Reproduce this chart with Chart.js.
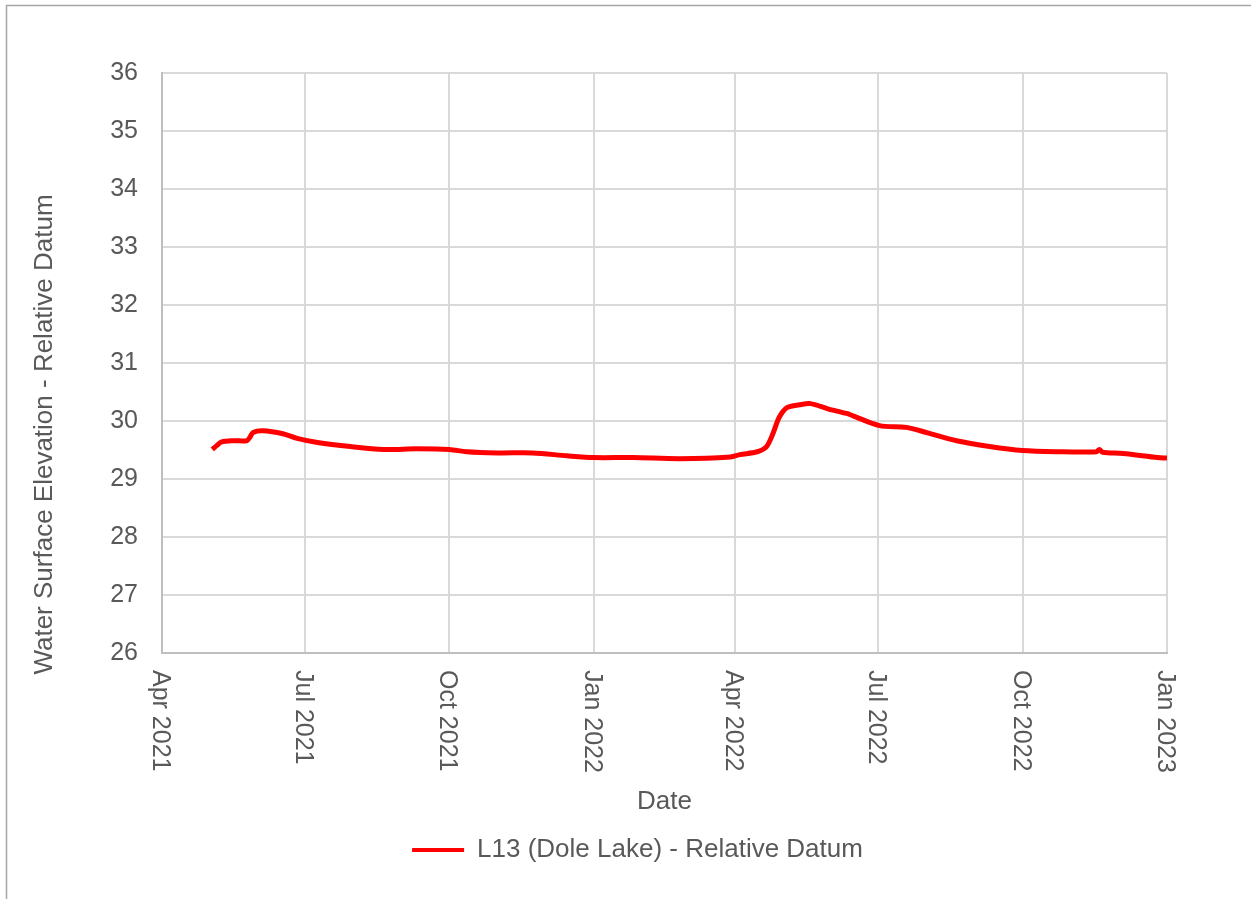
<!DOCTYPE html>
<html>
<head>
<meta charset="utf-8">
<script src="https://cdn.jsdelivr.net/npm/chart.js@4.4.1/dist/chart.umd.min.js"></script>
<style>
  html, body { margin: 0; padding: 0; background: #fff; }
  #wrap { width: 1251px; height: 899px; position: relative; }
</style>
</head>
<body>
<div id="wrap"><canvas id="myChart" width="1251" height="899"></canvas></div>
<script>
// L13 (Dole Lake) water level
var dates = ['2021-05-03', '2021-05-06', '2021-05-09', '2021-05-16', '2021-05-25', '2021-05-27',
             '2021-05-29', '2021-06-04', '2021-06-17', '2021-06-26', '2021-07-09', '2021-07-30',
             '2021-08-20', '2021-09-10', '2021-10-01', '2021-10-12', '2021-11-01', '2021-11-23',
             '2021-12-15', '2022-01-01', '2022-01-26', '2022-02-25', '2022-03-29', '2022-04-04',
             '2022-04-15', '2022-04-21', '2022-04-25', '2022-04-29', '2022-05-04', '2022-05-12',
             '2022-05-19', '2022-05-30', '2022-06-11', '2022-06-15', '2022-07-02', '2022-07-19',
             '2022-08-01', '2022-08-20', '2022-09-10', '2022-10-01', '2022-10-23', '2022-11-17',
             '2022-11-19', '2022-11-21', '2022-12-04', '2022-12-26', '2023-01-01'];
var levels = [29.51, 29.58, 29.64, 29.66, 29.66, 29.72,
              29.80, 29.83, 29.78, 29.70, 29.63, 29.56,
              29.51, 29.52, 29.51, 29.47, 29.45, 29.45,
              29.40, 29.37, 29.37, 29.35, 29.38, 29.42,
              29.47, 29.56, 29.78, 30.06, 30.23, 30.28,
              30.30, 30.21, 30.13, 30.09, 29.92, 29.89,
              29.80, 29.66, 29.56, 29.49, 29.47, 29.47,
              29.51, 29.46, 29.44, 29.37, 29.36];

var xTickDates = ['2021-04-01', '2021-07-01', '2021-10-01', '2022-01-01',
                  '2022-04-01', '2022-07-01', '2022-10-01', '2023-01-01'];
var xTickLabels = ['Apr 2021', 'Jul 2021', 'Oct 2021', 'Jan 2022',
                   'Apr 2022', 'Jul 2022', 'Oct 2022', 'Jan 2023'];

var seriesName = 'L13 (Dole Lake) - Relative Datum';
var yTitle = 'Water Surface Elevation - Relative Datum';
var FONT = "'Liberation Sans', 'Open Sans', sans-serif";
var TXT = '#595959';

function toTime(s) { return Date.parse(s + 'T00:00:00Z'); }
var points = dates.map(function (d, i) { return { x: toTime(d), y: levels[i] }; });
var xTicks = xTickDates.map(toTime);

// page frame (top + left rule), vertical x labels, y title centred like excel does
var framePlugin = {
  id: 'frame',
  beforeDraw: function (chart) {
    var c = chart.ctx;
    c.save();
    c.strokeStyle = '#a6a6a6';
    c.lineWidth = 1.5;
    c.beginPath();
    c.moveTo(6.5, 899);
    c.lineTo(6.5, 5.5);
    c.lineTo(1251, 5.5);
    c.stroke();
    c.restore();
  },
  afterDraw: function (chart) {
    var c = chart.ctx;
    var sx = chart.scales.x;
    c.save();
    c.fillStyle = TXT;
    c.font = '25px ' + FONT;
    c.textAlign = 'left';
    c.textBaseline = 'middle';
    xTicks.forEach(function (t, i) {
      var px = sx.getPixelForValue(t);
      c.save();
      c.translate(px - 2, sx.top + 17);
      c.rotate(Math.PI / 2);
      c.fillText(xTickLabels[i], 0, 0);
      c.restore();
    });
    // y axis title
    c.font = '26px ' + FONT;
    c.textAlign = 'center';
    c.translate(45, (chart.chartArea.top + sx.bottom) / 2 - 16);
    c.rotate(-Math.PI / 2);
    c.fillText(yTitle, 0, 0);
    c.restore();
  }
};

var ctx = document.getElementById('myChart').getContext('2d');
var myChart = new Chart(ctx, {
  type: 'line',
  data: {
    datasets: [{
      label: seriesName,
      data: points,
      borderColor: '#ff0000',
      backgroundColor: '#ff0000',
      borderWidth: 5,
      pointRadius: 0,
      tension: 0.3,
      fill: false
    }]
  },
  options: {
    responsive: false,
    animation: false,
    layout: { padding: { left: 108, top: 73, right: 84, bottom: 26 } },
    plugins: {
      title: { display: false },
      tooltip: { enabled: false },
      legend: {
        position: 'bottom',
        labels: {
          color: TXT,
          font: { family: FONT, size: 26 },
          boxWidth: 52,
          boxHeight: 4,
          padding: 9,
          generateLabels: function (chart) {
            return [{
              text: seriesName,
              fillStyle: '#ff0000',
              strokeStyle: '#ff0000',
              lineWidth: 0,
              fontColor: TXT,
              datasetIndex: 0
            }];
          }
        }
      }
    },
    scales: {
      x: {
        type: 'linear',
        min: toTime('2021-04-01'),
        max: toTime('2023-01-01'),
        afterBuildTicks: function (scale) {
          scale.ticks = xTicks.map(function (v) { return { value: v }; });
        },
        afterFit: function (scale) { scale.height = 175; },
        ticks: {
          color: 'rgba(0,0,0,0)',
          minRotation: 90,
          maxRotation: 90,
          autoSkip: false,
          font: { family: FONT, size: 25 },
          callback: function (v, i) { return xTickLabels[i] || ''; }
        },
        grid: { color: '#d9d9d9', lineWidth: 2, drawTicks: false },
        border: { color: '#bfbfbf', width: 2 },
        title: {
          display: true,
          text: 'Date',
          color: TXT,
          font: { family: FONT, size: 26 },
          padding: { top: 0, bottom: 11 }
        }
      },
      y: {
        min: 26,
        max: 36,
        afterFit: function (scale) { scale.width = 54; },
        ticks: {
          stepSize: 1,
          padding: 24,
          color: TXT,
          font: { family: FONT, size: 25 }
        },
        grid: { color: '#d9d9d9', lineWidth: 2, drawTicks: false },
        border: { color: '#bfbfbf', width: 2 },
        title: { display: false }
      }
    }
  },
  plugins: [framePlugin]
});
</script>
</body>
</html>
